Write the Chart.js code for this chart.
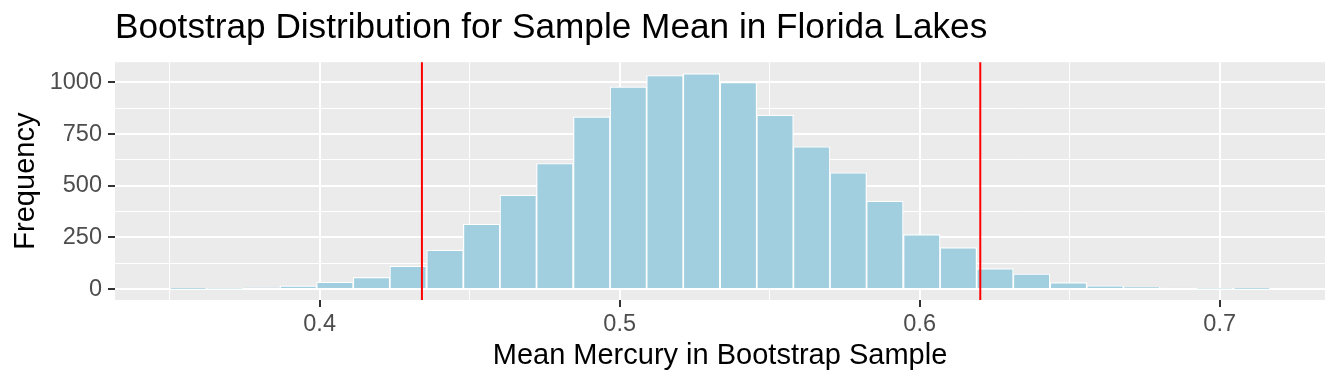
<!DOCTYPE html>
<html><head><meta charset="utf-8">
<script src="https://cdn.jsdelivr.net/npm/chart.js@4"></script>
<style>html,body{margin:0;padding:0;background:#fff}#wrap{width:1344px;height:384px}</style>
</head><body><div id="wrap"><canvas id="c" width="1344" height="384"></canvas></div>
<script>
// Histogram bins (centres) and counts
const binCenters = [0.3562,0.3684,0.3807,0.3929,0.4051,0.4173,0.4295,0.4418,0.4540,0.4662,
                    0.4784,0.4907,0.5029,0.5151,0.5273,0.5396,0.5518,0.5640,0.5762,0.5884,
                    0.6007,0.6129,0.6251,0.6373,0.6496,0.6618,0.6740,0.6862,0.6984,0.7107];
const counts = [1,3,6,15,34,57,111,189,314,455,
                608,834,979,1034,1043,1000,842,689,563,426,
                264,201,99,73,31,16,10,5,3,2];
const ciBounds = [0.4341, 0.6202];
const xMajorTicks = [0.4,0.5,0.6,0.7];
const xMinorTicks = [0.35,0.45,0.55,0.65];
const yMajorTicks = [0,250,500,750,1000];
const yMinorTicks = [125,375,625,875];
const xLimits = [0.3318, 0.7351];
const yLimits = [-53, 1098];
const titleText = 'Bootstrap Distribution for Sample Mean in Florida Lakes';
const xTitle = 'Mean Mercury in Bootstrap Sample';
const yTitle = 'Frequency';

const FONT = "'Liberation Sans', Arial, Helvetica, sans-serif";
const isIn = (arr, v) => arr.some(a => Math.abs(a - v) < 1e-9);
const tickVal = c => (c && c.tick) ? c.tick.value : NaN;

const panelBg = {
  id: 'panelBg',
  beforeDraw(chart) {
    const {ctx, chartArea: a} = chart;
    ctx.save(); ctx.fillStyle = '#EBEBEB';
    ctx.fillRect(a.left, a.top, a.right - a.left, a.bottom - a.top);
    ctx.restore();
  }
};
const ciLines = {
  id: 'ciLines',
  afterDatasetsDraw(chart) {
    const {ctx, chartArea: a, scales: {x}} = chart;
    ctx.save(); ctx.strokeStyle = '#FF0000'; ctx.lineWidth = 2;
    ciBounds.forEach(v => {
      const px = x.getPixelForValue(v);
      ctx.beginPath(); ctx.moveTo(px, a.top); ctx.lineTo(px, a.bottom); ctx.stroke();
    });
    ctx.restore();
  }
};

new Chart(document.getElementById('c'), {
  type: 'bar',
  data: {
    datasets: [{
      data: binCenters.map((c, i) => ({x: c, y: counts[i]})),
      backgroundColor: '#A1CFE0',
      borderColor: '#FFFFFF',
      borderWidth: 1.2,
      barPercentage: 1.0,
      categoryPercentage: 1.0
    }]
  },
  options: {
    responsive: false, animation: false, devicePixelRatio: 1,
    layout: {padding: {left: 0, right: 19, top: 0, bottom: 0}},
    plugins: {
      legend: {display: false}, tooltip: {enabled: false},
      title: {display: true, text: titleText, align: 'start', fullSize: false,
              color: '#000', font: {family: FONT, size: 35.2, weight: 'normal'},
              padding: {top: 7, bottom: 13}}
    },
    scales: {
      x: {
        type: 'linear', min: xLimits[0], max: xLimits[1], offset: false,
        afterBuildTicks: s => { s.ticks = [...xMinorTicks, ...xMajorTicks].sort((a,b)=>a-b).map(v => ({value: v})); },
        afterFit: s => { s.height = 84; },
        ticks: {autoSkip: false, maxRotation: 0, padding: 3, color: '#4D4D4D',
                font: {family: FONT, size: 23.5},
                callback: v => isIn(xMajorTicks, v) ? v.toFixed(1) : ''},
        grid: {offset: false, color: '#FFFFFF', lineWidth: c => isIn(xMajorTicks, tickVal(c)) ? 2 : 1,
               tickColor: c => isIn(xMajorTicks, tickVal(c)) ? '#333333' : 'rgba(0,0,0,0)',
               tickLength: 7, tickWidth: 2},
        border: {display: false},
        title: {display: true, text: xTitle, color: '#000', font: {family: FONT, size: 29},
                padding: {top: 2, bottom: 11}}
      },
      y: {
        type: 'linear', min: yLimits[0], max: yLimits[1],
        afterBuildTicks: s => { s.ticks = [...yMinorTicks, ...yMajorTicks].sort((a,b)=>a-b).map(v => ({value: v})); },
        afterFit: s => { s.width = 115; },
        ticks: {autoSkip: false, padding: 6, color: '#4D4D4D',
                font: {family: FONT, size: 23.5},
                callback: v => isIn(yMajorTicks, v) ? String(v) : ''},
        grid: {color: '#FFFFFF', lineWidth: c => isIn(yMajorTicks, tickVal(c)) ? 2 : 1,
               tickColor: c => isIn(yMajorTicks, tickVal(c)) ? '#333333' : 'rgba(0,0,0,0)',
               tickLength: 7, tickWidth: 2},
        border: {display: false},
        title: {display: true, text: yTitle, color: '#000', font: {family: FONT, size: 29},
                padding: {top: 9, bottom: 4}}
      }
    }
  },
  plugins: [panelBg, ciLines]
});
</script></body></html>
